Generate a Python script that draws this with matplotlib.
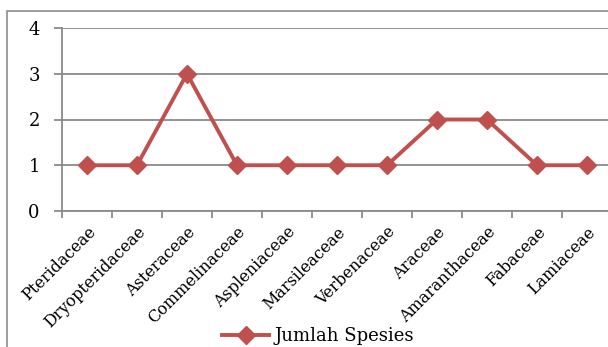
import matplotlib.pyplot as plt
from matplotlib.patches import Rectangle

# Data
families = ['Pteridaceae', 'Dryopteridaceae', 'Asteraceae', 'Commelinaceae',
            'Aspleniaceae', 'Marsileaceae', 'Verbenaceae', 'Araceae',
            'Amaranthaceae', 'Fabaceae', 'Lamiaceae']
jumlah_spesies = [1, 1, 3, 1, 1, 1, 1, 2, 2, 1, 1]

plt.rcParams['font.family'] = ['DejaVu Serif', 'Liberation Serif']

W, H = 608, 347
fig = plt.figure(figsize=(W / 100, H / 100), dpi=100)

# outer chart border (cropped on the right and bottom)
fig.patches.append(Rectangle((7 / W, -0.1), 2, 1 - 11 / H + 0.1,
                             transform=fig.transFigure, fill=False,
                             edgecolor='#8c8c8c', linewidth=1.2))

# plot area: x from 62px to ~612px, y from 28px to 211px
ax = fig.add_axes([62 / W, 1 - 211 / H, (612 - 62) / W, (211 - 28) / H])
x = list(range(len(families)))
ax.plot(x, jumlah_spesies, color='#C0504D', linewidth=2.8, marker='D',
        markersize=9.5, label='Jumlah Spesies', clip_on=False, zorder=3)

ax.set_xlim(-0.5, len(families) - 0.5)
ax.set_ylim(0, 4)
ax.set_yticks([0, 1, 2, 3, 4])
ax.yaxis.grid(True, color='#8a8a8a', linewidth=1.3)
ax.set_axisbelow(True)

for s in ['top', 'right']:
    ax.spines[s].set_visible(False)
for s in ['left', 'bottom']:
    ax.spines[s].set_color('#8a8a8a')
    ax.spines[s].set_linewidth(1.3)

ax.set_xticks([i - 0.5 for i in range(len(families) + 1)])
ax.set_xticklabels([])
ax.set_xticks(x, minor=True)
ax.set_xticklabels(families, minor=True, rotation=45, ha='right',
                   rotation_mode='anchor', fontsize=11.5)
ax.tick_params(axis='x', which='minor', length=0, pad=9)
ax.tick_params(axis='x', which='major', length=5, color='#8a8a8a', width=1.3)
ax.tick_params(axis='y', length=6, color='#8a8a8a', width=1.3,
               labelsize=13, pad=10)

ax.legend(loc='center', bbox_to_anchor=(318 / W, 1 - 336 / H),
          bbox_transform=fig.transFigure, frameon=False, fontsize=13,
          handlelength=2.6, handletextpad=0.3, borderpad=0.1)

fig.savefig('out.png', dpi=100)
